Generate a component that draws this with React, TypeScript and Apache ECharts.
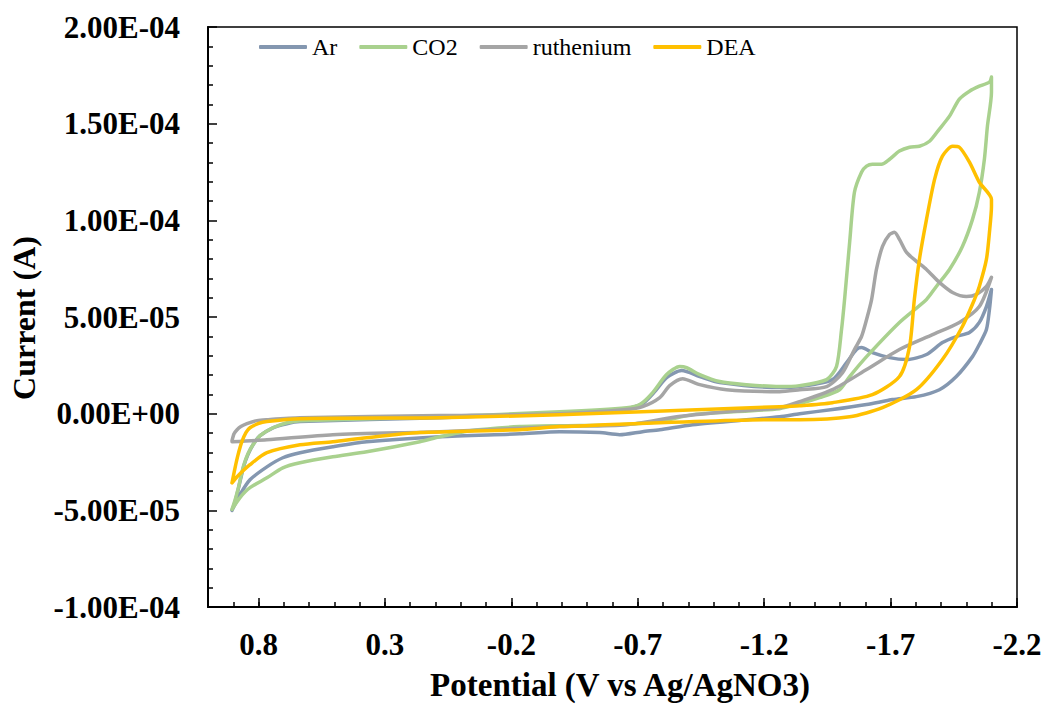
import React, { useEffect, useRef } from 'react';
import * as echarts from 'echarts';

// Cyclic voltammograms: potential (V vs Ag/AgNO3) and current (A), loop order
const arPotential = [
  0.905, 0.893, 0.881, 0.870, 0.858, 0.842, 0.822, 0.794, 0.743, 0.688, 0.636, 0.083, -0.391, -0.656, -0.719,
  -0.767, -0.814, -0.874, -0.945, -1.024, -1.261, -1.340, -1.470, -1.526, -1.565, -1.585, -1.628, -1.696,
  -1.763, -1.842, -1.905, -1.960, -2.012, -2.051, -2.079, -2.099,
  -2.091, -2.079, -2.051, -2.024, -1.960, -1.893, -1.802, -1.708, -1.605, -1.470, -1.340, -1.261, -0.917,
  -0.787, -0.719, -0.628, -0.549, -0.391, -0.233, 0.083, 0.372, 0.506, 0.636, 0.704, 0.767, 0.834, 0.874, 0.905,
];
const arCurrent = [
  -5.0e-5, -4.56e-5, -3.94e-5, -3.32e-5, -2.69e-5, -2.12e-5, -1.61e-5, -1.14e-5, -0.73e-5, -0.52e-5, -0.41e-5, -0.21e-5, 0.05e-5, 0.26e-5, 0.52e-5,
  1.14e-5, 1.87e-5, 2.23e-5, 1.92e-5, 1.61e-5, 1.35e-5, 1.40e-5, 1.76e-5, 2.64e-5, 3.32e-5, 3.42e-5, 3.16e-5, 2.90e-5,
  2.80e-5, 3.06e-5, 3.68e-5, 3.99e-5, 4.20e-5, 4.72e-5, 5.54e-5, 6.42e-5,
  5.39e-5, 4.35e-5, 3.58e-5, 2.95e-5, 1.92e-5, 1.24e-5, 0.88e-5, 0.73e-5, 0.47e-5, 0.21e-5, 0.0, -0.16e-5, -0.57e-5,
  -0.83e-5, -0.93e-5, -1.09e-5, -0.98e-5, -0.93e-5, -1.04e-5, -1.19e-5, -1.45e-5, -1.71e-5, -2.02e-5, -2.28e-5, -2.75e-5, -3.42e-5, -4.20e-5, -5.0e-5,
];

const co2Potential = [
  0.905, 0.893, 0.881, 0.870, 0.858, 0.842, 0.822, 0.794, 0.743, 0.688, 0.636, 0.083, -0.391, -0.656, -0.708,
  -0.759, -0.814, -0.866, -0.893, -0.945, -1.024, -1.130, -1.261, -1.340, -1.447, -1.486, -1.506, -1.518,
  -1.538, -1.557, -1.585, -1.605, -1.628, -1.664, -1.696, -1.735, -1.775, -1.814, -1.854, -1.893, -1.933,
  -1.972, -2.012, -2.051, -2.091, -2.099,
  -2.099, -2.083, -2.071, -2.051, -2.024, -1.984, -1.933, -1.881, -1.842, -1.735, -1.605, -1.538, -1.498,
  -1.419, -1.340, -1.261, -0.917, -0.787, -0.628, -0.391, -0.233, -0.036, 0.083, 0.162, 0.372, 0.506, 0.636,
  0.704, 0.767, 0.834, 0.874, 0.905,
];
const co2Current = [
  -4.95e-5, -4.46e-5, -3.89e-5, -3.26e-5, -2.64e-5, -2.07e-5, -1.61e-5, -1.14e-5, -0.73e-5, -0.47e-5, -0.36e-5, -0.16e-5, 0.10e-5, 0.31e-5, 0.47e-5,
  1.09e-5, 2.02e-5, 2.44e-5, 2.38e-5, 2.02e-5, 1.66e-5, 1.50e-5, 1.40e-5, 1.45e-5, 1.76e-5, 2.44e-5, 4.35e-5, 5.91e-5,
  8.86e-5, 11.45e-5, 12.49e-5, 12.80e-5, 12.90e-5, 12.90e-5, 13.16e-5, 13.58e-5, 13.78e-5, 13.83e-5, 14.09e-5, 14.72e-5, 15.39e-5,
  16.27e-5, 16.68e-5, 16.94e-5, 17.15e-5, 17.41e-5,
  16.63e-5, 14.87e-5, 13.16e-5, 11.45e-5, 10.05e-5, 8.65e-5, 7.46e-5, 6.58e-5, 5.91e-5, 4.72e-5, 2.95e-5, 1.92e-5, 1.24e-5,
  0.83e-5, 0.52e-5, 0.26e-5, -0.05e-5, -0.41e-5, -0.57e-5, -0.62e-5, -0.67e-5, -0.88e-5, -1.19e-5, -1.45e-5, -1.97e-5, -2.23e-5, -2.54e-5,
  -2.80e-5, -3.32e-5, -3.83e-5, -4.35e-5, -4.95e-5,
];

const rutheniumPotential = [
  0.905, 0.897, 0.885, 0.870, 0.846, 0.806, 0.767, 0.636, 0.083, -0.391, -0.656, -0.719, -0.787, -0.826, -0.877,
  -0.945, -1.051, -1.261, -1.340, -1.447, -1.510, -1.557, -1.585, -1.605, -1.625, -1.644, -1.668, -1.696, -1.715,
  -1.735, -1.763, -1.802, -1.842, -1.893, -1.945, -2.000, -2.040, -2.079, -2.099,
  -2.051, -1.972, -1.866, -1.735, -1.605, -1.470, -1.340, -1.261, -1.051, -0.854, -0.656, -0.391, 0.083,
  0.506, 0.767, 0.905,
];
const rutheniumCurrent = [
  -1.40e-5, -1.04e-5, -0.83e-5, -0.67e-5, -0.52e-5, -0.36e-5, -0.31e-5, -0.21e-5, -0.10e-5, 0.0, 0.21e-5, 0.36e-5, 0.83e-5, 1.45e-5, 1.81e-5,
  1.50e-5, 1.24e-5, 1.14e-5, 1.24e-5, 1.40e-5, 2.12e-5, 3.32e-5, 3.99e-5, 4.87e-5, 5.91e-5, 7.46e-5, 8.65e-5, 9.27e-5, 9.38e-5,
  9.02e-5, 8.34e-5, 7.88e-5, 7.46e-5, 6.79e-5, 6.27e-5, 6.06e-5, 6.17e-5, 6.58e-5, 7.05e-5,
  5.54e-5, 4.72e-5, 4.09e-5, 3.32e-5, 2.28e-5, 1.24e-5, 0.62e-5, 0.31e-5, 0.10e-5, -0.16e-5, -0.57e-5, -0.67e-5, -0.93e-5,
  -1.09e-5, -1.35e-5, -1.45e-5,
];

const deaPotential = [
  0.905, 0.893, 0.881, 0.866, 0.850, 0.834, 0.802, 0.767, 0.636, 0.083, -0.391, -1.261, -1.340, -1.470, -1.628,
  -1.735, -1.775, -1.794, -1.814, -1.842, -1.874, -1.905, -1.945, -1.972, -2.012, -2.051, -2.099,
  -2.099, -2.091, -2.079, -2.051, -2.032, -1.984, -1.905, -1.802, -1.668, -1.538, -1.340, -1.261, -0.391,
  -0.233, 0.162, 0.372, 0.506, 0.636, 0.767, 0.834, 0.885, 0.905,
];
const deaCurrent = [
  -3.58e-5, -2.80e-5, -2.12e-5, -1.45e-5, -0.98e-5, -0.73e-5, -0.52e-5, -0.41e-5, -0.26e-5, -0.21e-5, -0.05e-5, 0.36e-5, 0.41e-5, 0.57e-5, 0.98e-5,
  1.92e-5, 3.47e-5, 5.91e-5, 7.98e-5, 10.05e-5, 12.12e-5, 13.32e-5, 13.83e-5, 13.78e-5, 13.01e-5, 11.97e-5, 11.09e-5,
  10.73e-5, 9.38e-5, 7.98e-5, 6.58e-5, 5.91e-5, 4.51e-5, 2.80e-5, 1.24e-5, 0.31e-5, -0.16e-5, -0.31e-5, -0.31e-5, -0.67e-5,
  -0.83e-5, -0.98e-5, -1.24e-5, -1.45e-5, -1.61e-5, -2.02e-5, -2.64e-5, -3.26e-5, -3.58e-5,
];

const legendNames = ['Ar', 'CO2', 'ruthenium', 'DEA'];
const seriesColors = ['#8497B0', '#A9D18E', '#A5A5A5', '#FFC000'];
const xTitle = 'Potential (V vs Ag/AgNO3)';
const yTitle = 'Current (A)';

const FONT = "'Liberation Serif', 'Times New Roman', serif";

function sci(v: number): string {
  const s = v.toExponential(2); // e.g. "5.00e-5"
  const [m, e] = s.split('e');
  const sign = e[0] === '-' ? '-' : '+';
  const digits = e.replace(/[+-]/, '').padStart(2, '0');
  return `${m}E${sign}${digits}`;
}

export default function App() {
  const ref = useRef<HTMLDivElement>(null);
  useEffect(() => {
    const chart = echarts.init(ref.current as HTMLDivElement, null, { renderer: 'svg' });
    const pairs = (p: number[], c: number[]) => p.map((v, i) => [v, c[i]]);
    const sets = [
      [arPotential, arCurrent],
      [co2Potential, co2Current],
      [rutheniumPotential, rutheniumCurrent],
      [deaPotential, deaCurrent],
    ];
    const series = legendNames.map((name, i) => ({
      name,
      type: 'line',
      xAxisIndex: 0,
      yAxisIndex: 0,
      data: pairs(sets[i][0], sets[i][1]),
      symbol: 'none',
      showSymbol: false,
      smooth: 0.25,
      clip: false,
      lineStyle: { color: seriesColors[i], width: 3.5, cap: 'round', join: 'round' },
      itemStyle: { color: seriesColors[i] },
      z: 2 + i,
    }));
    const baseX = {
      type: 'value',
      min: -2.2,
      max: 1.0,
      inverse: true,
      position: 'bottom',
      splitLine: { show: false },
    };
    chart.setOption({
      animation: false,
      backgroundColor: '#ffffff',
      grid: {
        left: 208, right: 29, top: 27, bottom: 99,
        show: true, borderColor: '#000', borderWidth: 1.5, backgroundColor: 'transparent',
      },
      legend: {
        data: legendNames,
        left: 259,
        top: 35,
        padding: 0,
        itemWidth: 48,
        itemHeight: 4,
        itemGap: 22,
        icon: 'roundRect',
        textStyle: { fontFamily: FONT, fontSize: 24, color: '#000', lineHeight: 24 },
      },
      xAxis: [
        {
          ...baseX,
          interval: 0.1,
          axisLine: { show: true, onZero: false, lineStyle: { color: '#000', width: 2 } },
          axisTick: { show: true, inside: true, length: 5, lineStyle: { color: '#000', width: 1.5 } },
          axisLabel: { show: false },
        },
        {
          ...baseX,
          interval: 0.5,
          axisLine: { show: false, onZero: false },
          axisTick: { show: true, inside: true, length: 9, lineStyle: { color: '#000', width: 1.5 } },
          axisLabel: {
            show: true,
            showMaxLabel: false,
            fontFamily: FONT,
            fontWeight: 'bold',
            fontSize: 31,
            color: '#000',
            margin: 22,
            formatter: (v: number) => (Math.abs(v - 1) < 1e-6 ? '' : String(Number(v.toFixed(1)))),
          },
        },
      ],
      yAxis: {
        type: 'value',
        min: -1e-4,
        max: 2e-4,
        interval: 5e-5,
        splitLine: { show: false },
        axisLine: { show: true, onZero: false, lineStyle: { color: '#000', width: 2 } },
        axisTick: { show: true, inside: true, length: 9, lineStyle: { color: '#000', width: 1.5 } },
        minorTick: { show: true, splitNumber: 5, length: 5, lineStyle: { color: '#000', width: 1.5 } },
        axisLabel: {
          fontFamily: FONT,
          fontWeight: 'bold',
          fontSize: 31,
          color: '#000',
          margin: 28,
          formatter: (v: number) => sci(v),
        },
      },
      graphic: [
        {
          type: 'text',
          x: 620,
          y: 685,
          style: {
            text: xTitle,
            fontFamily: FONT, fontWeight: 'bold', fontSize: 33, fill: '#000',
            align: 'center', verticalAlign: 'middle',
          },
        },
        {
          type: 'text',
          x: 24,
          y: 318,
          rotation: Math.PI / 2,
          style: {
            text: yTitle,
            fontFamily: FONT, fontWeight: 'bold', fontSize: 32, fill: '#000',
            align: 'center', verticalAlign: 'middle',
          },
        },
      ],
      series,
    });
    return () => chart.dispose();
  }, []);
  return (
    <div
      ref={ref}
      style={{ position: 'fixed', left: 0, top: 0, width: 1046, height: 706, background: '#fff' }}
    />
  );
}
